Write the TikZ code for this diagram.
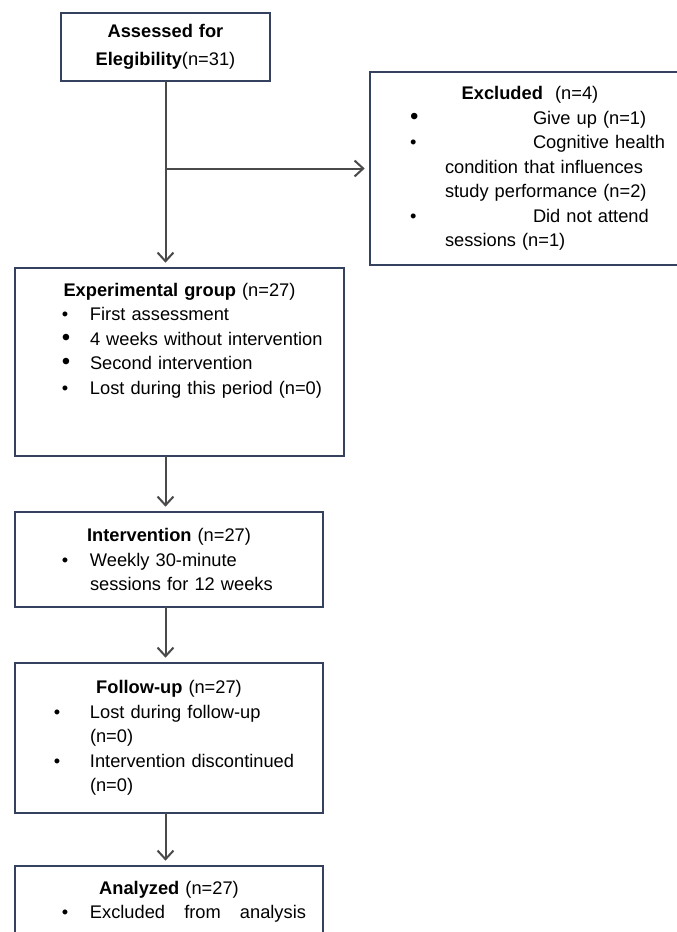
\documentclass[tikz,border=0pt]{standalone}
\usepackage{fontspec}
\setmainfont{Liberation Sans}
\usetikzlibrary{arrows.meta}
\definecolor{boxline}{HTML}{34425F}
\definecolor{arrowline}{HTML}{4A4A4A}
\newcommand{\bigbul}{{\fontsize{18pt}{18pt}\selectfont\textbullet}}
\newcommand{\itm}[4][\textbullet]{\hspace*{#2}\makebox[\dimexpr#3-#2\relax][l]{#1}#4}
\tikzset{
  flowbox/.style={draw=boxline, line width=1.5pt, rectangle, anchor=north west,
    outer sep=0pt, inner xsep=4.5pt, align=left,
    font=\fontsize{13.7pt}{18.4pt}\selectfont},
  topbox/.style={flowbox, inner ysep=11.2pt},
  flow/.style={draw=arrowline, line width=1.5pt, shorten >=4pt,
    -{Straight Barb[length=6.5pt,width=12pt]}},
}
\begin{document}
\begin{tikzpicture}[x=0.75pt, y=-0.75pt]
	\useasboundingbox (0,0) rectangle (677,932);
	\clip (0,0) rectangle (677,932);
	
	% Boxes
	\node[flowbox, align=center, text width=147.75pt, minimum height=51pt,
	  font=\fontsize{13.7pt}{21pt}\selectfont] (assess) at (61,13)
	  {\textbf{Assessed for}\\\textbf{Elegibility}(n=31)};
	
	\node[flowbox, text width=231pt, minimum height=144.75pt] (excl) at (370,72) {%
	  \makebox[\linewidth]{\textbf{Excluded}~~(n=4)}\\
	  \itm[\bigbul]{25.5pt}{117.75pt}{Give up (n=1)}\\
	  \itm{25.5pt}{117.75pt}{Cognitive health}\\
	  \hspace*{51.75pt}condition that influences\\
	  \hspace*{51.75pt}study performance (n=2)\\
	  \itm{25.5pt}{117.75pt}{Did not attend}\\
	  \hspace*{51.75pt}sessions (n=1)};
	
	\node[topbox, text width=237.75pt, text depth=109pt] (exper) at (15,268) {%
	  \makebox[\linewidth]{\textbf{Experimental group} (n=27)}\\
	  \itm{30.6pt}{51.75pt}{First assessment}\\
	  \itm[\bigbul]{30.6pt}{51.75pt}{4 weeks without intervention}\\
	  \itm[\bigbul]{30.6pt}{51.75pt}{Second intervention}\\
	  \itm{30.6pt}{51.75pt}{Lost during this period (n=0)}};
	
	\node[flowbox, text width=222pt, minimum height=71.25pt] (interv) at (15,512) {%
	  \makebox[\linewidth]{\textbf{Intervention} (n=27)}\\
	  \itm{30.6pt}{51.75pt}{Weekly 30-minute}\\
	  \hspace*{51.75pt}sessions for 12 weeks};
	
	\node[flowbox, text width=222pt, minimum height=112.5pt] (follow) at (15,663) {%
	  \makebox[\linewidth]{\textbf{Follow-up} (n=27)}\\
	  \itm{24.6pt}{51.75pt}{Lost during follow-up}\\
	  \hspace*{51.75pt}(n=0)\\
	  \itm{24.6pt}{51.75pt}{Intervention discontinued}\\
	  \hspace*{51.75pt}(n=0)};
	
	\node[topbox, text width=222pt, text depth=80pt] (analyz) at (15,866) {%
	  \makebox[\linewidth]{\textbf{Analyzed} (n=27)}\\
	  \itm{30.6pt}{51.75pt}{\makebox[162pt][l]{Excluded\hfill from\hfill analysis}}};
	
	% Arrows
	\coordinate (split) at (assess.south |- excl.west);
	\draw[flow] (assess.south) -- (exper.north -| assess.south);
	\draw[flow] (split) -- (excl.west);
	\draw[flow] (exper.south -| split) -- (interv.north -| split);
	\draw[flow] (interv.south -| split) -- (follow.north -| split);
	\draw[flow] (follow.south -| split) -- (analyz.north -| split);
\end{tikzpicture}
\end{document}
